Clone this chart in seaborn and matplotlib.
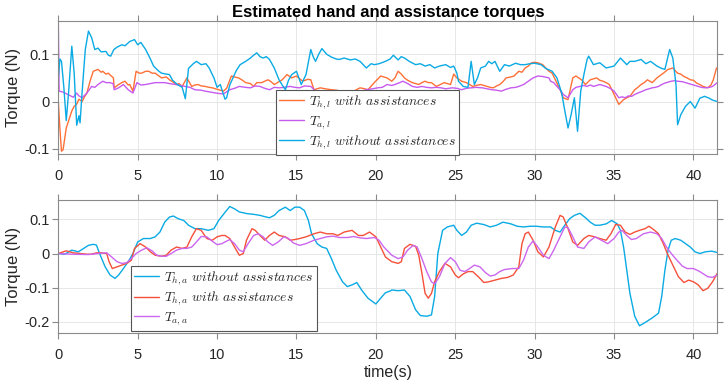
import matplotlib
matplotlib.use("Agg")
import matplotlib.pyplot as plt
import seaborn as sns

# ---------------- data ----------------
# Top panel: T_{h,l} without assistances (blue)
top_blue_t = [0.0, 0.1, 0.2, 0.35, 0.5, 0.65, 0.85, 1.0, 1.16, 1.3, 1.37, 1.5, 1.7, 1.9, 2.1, 2.3, 2.5, 2.7, 3.0, 3.15,
              3.3, 3.5, 3.7, 4.0, 4.2, 4.5, 4.8, 5.0, 5.2, 5.5, 5.8, 6.0, 6.3, 6.5, 6.8, 7.0, 7.2, 7.5, 7.8, 8.0,
              8.2, 8.5, 8.7, 9.0, 9.3, 9.5, 9.8, 10.0, 10.2, 10.5, 10.6, 10.8, 11.0, 11.2, 11.45, 11.8, 12.1, 12.3, 12.5, 12.7,
              12.9, 13.1, 13.3, 13.6, 13.9, 14.1, 14.3, 14.5, 14.7, 15.0, 15.15, 15.3, 15.6, 15.9, 16.05, 16.2, 16.4, 16.6, 16.9, 17.2,
              17.5, 17.7, 18.0, 18.4, 18.7, 19.0, 19.4, 19.7, 19.9, 20.2, 20.6, 20.9, 21.1, 21.4, 21.6, 21.8, 22.1, 22.5, 22.8, 23.1,
              23.4, 23.7, 24.0, 24.4, 24.7, 24.9, 25.1, 25.2, 25.5, 25.8, 26.0, 26.2, 26.4, 26.6, 26.9, 27.1, 27.3, 27.5, 27.8, 28.1,
              28.4, 28.8, 29.1, 29.4, 29.7, 30.0, 30.4, 30.7, 31.1, 31.4, 31.7, 31.9, 32.1, 32.3, 32.5, 32.7, 32.9, 33.1, 33.3, 33.4,
              33.7, 34.1, 34.5, 35.0, 35.4, 35.8, 36.0, 36.3, 36.7, 37.0, 37.3, 37.7, 38.0, 38.2, 38.5, 38.7, 38.9, 39.0, 39.2, 39.5,
              39.8, 40.1, 40.4, 40.7, 41.0, 41.2, 41.5]
top_blue_v = [0.05, 0.09, 0.085, 0.03, -0.04, 0.02, 0.117, 0.06, -0.05, -0.03, -0.045, 0.02, 0.11, 0.149, 0.135, 0.11, 0.113, 0.105, 0.106, 0.098,
              0.096, 0.11, 0.115, 0.12, 0.118, 0.127, 0.131, 0.12, 0.125, 0.11, 0.09, 0.075, 0.065, 0.06, 0.058, 0.057, 0.045, 0.036, 0.03, 0.006,
              0.07, 0.08, 0.085, 0.078, 0.08, 0.071, 0.05, 0.03, 0.036, 0.005, 0.008, 0.035, 0.05, 0.065, 0.078, 0.085, 0.092, 0.098, 0.103, 0.095,
              0.092, 0.095, 0.089, 0.071, 0.046, 0.035, 0.025, 0.045, 0.057, 0.064, 0.05, 0.036, 0.057, 0.11, 0.095, 0.085, 0.1, 0.112, 0.1, 0.094,
              0.09, 0.089, 0.092, 0.088, 0.09, 0.085, 0.071, 0.08, 0.078, 0.08, 0.085, 0.09, 0.098, 0.088, 0.095, 0.092, 0.085, 0.078, 0.08, 0.075,
              0.078, 0.071, 0.075, 0.078, 0.072, 0.075, 0.06, 0.043, 0.032, 0.03, 0.085, 0.036, 0.05, 0.071, 0.075, 0.085, 0.08, 0.085, 0.064, 0.078,
              0.075, 0.081, 0.078, 0.078, 0.08, 0.081, 0.078, 0.07, 0.064, 0.05, 0.018, -0.02, -0.056, -0.027, 0.008, -0.063, 0.022, 0.057, 0.089, 0.096,
              0.078, 0.082, 0.071, 0.075, 0.092, 0.078, 0.085, 0.085, 0.089, 0.08, 0.085, 0.075, 0.07, 0.068, 0.11, 0.092, 0.036, -0.049, -0.028, -0.01,
              0.0, -0.014, 0.007, 0.011, 0.007, 0.003, 0.0]

# Top panel: T_{h,l} with assistances (orange)
top_orange_t = [0.0, 0.1, 0.2, 0.3, 0.5, 0.7, 0.85, 1.0, 1.15, 1.3, 1.5, 1.65, 1.8, 2.0, 2.2, 2.5, 2.7, 2.8, 3.0, 3.15,
                3.3, 3.47, 3.52, 3.8, 4.0, 4.2, 4.4, 4.5, 4.7, 4.9, 5.1, 5.25, 5.5, 5.7, 5.9, 6.1, 6.3, 6.5, 6.8, 7.0,
                7.2, 7.4, 7.6, 7.8, 8.1, 8.4, 8.6, 8.8, 9.0, 9.25, 9.5, 9.7, 10.1, 10.4, 10.6, 10.9, 11.1, 11.35, 11.6, 11.8,
                12.1, 12.3, 12.5, 12.8, 13.0, 13.2, 13.4, 13.6, 13.9, 14.1, 14.4, 14.7, 15.0, 15.2, 15.4, 15.7, 15.9, 16.1, 16.5, 16.8,
                17.2, 17.5, 17.8, 18.0, 18.2, 18.6, 19.0, 19.3, 19.5, 19.9, 20.3, 20.5, 20.7, 21.0, 21.2, 21.4, 21.6, 21.8, 22.0, 22.3,
                22.5, 22.7, 22.9, 23.1, 23.3, 23.5, 23.8, 24.0, 24.3, 24.5, 24.7, 24.9, 25.1, 25.4, 25.7, 25.9, 26.1, 26.3, 26.6, 26.8,
                27.0, 27.2, 27.4, 27.6, 27.8, 28.0, 28.2, 28.5, 28.7, 29.0, 29.2, 29.4, 29.6, 29.8, 30.0, 30.2, 30.5, 30.7, 30.9, 31.1,
                31.3, 31.6, 31.8, 32.1, 32.4, 32.6, 32.95, 33.2, 33.5, 33.9, 34.1, 34.3, 34.5, 34.7, 35.0, 35.3, 35.6, 35.8, 36.0, 36.3,
                36.5, 36.7, 36.9, 37.1, 37.4, 37.7, 37.9, 38.1, 38.4, 38.7, 39.0, 39.2, 39.4, 39.6, 39.8, 40.0, 40.2, 40.4, 40.6, 40.9,
                41.1, 41.25, 41.45]
top_orange_v = [0.0, -0.056, -0.105, -0.102, -0.056, -0.035, -0.02, -0.01, -0.006, 0.005, 0.0, 0.01, 0.018, 0.043, 0.064, 0.068, 0.062, 0.064, 0.058, 0.06,
                0.055, 0.05, 0.029, 0.036, 0.04, 0.043, 0.035, 0.036, 0.022, 0.064, 0.06, 0.06, 0.064, 0.064, 0.06, 0.06, 0.055, 0.05, 0.052, 0.046,
                0.042, 0.036, 0.038, 0.032, 0.05, 0.032, 0.035, 0.036, 0.033, 0.032, 0.03, 0.029, 0.025, 0.022, 0.028, 0.054, 0.052, 0.05, 0.045, 0.04,
                0.038, 0.032, 0.04, 0.04, 0.043, 0.046, 0.042, 0.036, 0.042, 0.046, 0.057, 0.05, 0.054, 0.048, 0.043, 0.047, 0.046, 0.025, 0.029, 0.027,
                0.025, 0.024, 0.022, 0.02, 0.018, 0.022, 0.029, 0.027, 0.025, 0.04, 0.054, 0.052, 0.05, 0.043, 0.05, 0.064, 0.058, 0.05, 0.045, 0.04,
                0.038, 0.036, 0.04, 0.043, 0.04, 0.04, 0.032, 0.035, 0.04, 0.038, 0.036, 0.058, 0.05, 0.043, 0.04, 0.036, 0.032, 0.034, 0.036, 0.034,
                0.032, 0.03, 0.029, 0.033, 0.036, 0.042, 0.05, 0.052, 0.054, 0.064, 0.062, 0.071, 0.075, 0.082, 0.083, 0.082, 0.078, 0.071, 0.064, 0.06,
                0.046, 0.025, 0.008, 0.004, 0.05, 0.054, 0.046, 0.036, 0.046, 0.05, 0.045, 0.043, 0.04, 0.036, 0.015, -0.006, 0.004, 0.008, 0.011, 0.025,
                0.03, 0.036, 0.04, 0.046, 0.04, 0.05, 0.055, 0.06, 0.068, 0.071, 0.06, 0.058, 0.053, 0.05, 0.046, 0.045, 0.039, 0.036, 0.032, 0.029,
                0.035, 0.046, 0.071]

# Top panel: T_{a,l} (magenta)
top_mag_t = [0.0, 0.05, 0.3, 0.6, 0.95, 1.15, 1.3, 1.5, 1.8, 2.1, 2.3, 2.5, 2.8, 3.0, 3.25, 3.45, 3.52, 3.8, 4.1, 4.4,
             4.7, 4.95, 5.2, 5.5, 5.8, 6.1, 6.4, 6.7, 7.0, 7.4, 7.7, 8.0, 8.3, 8.6, 9.0, 9.25, 9.6, 9.9, 10.4, 10.8,
             11.1, 11.4, 11.8, 12.1, 12.4, 12.7, 13.0, 13.3, 13.6, 13.9, 14.2, 14.6, 14.9, 15.2, 15.5, 15.9, 16.2, 16.5, 16.9, 17.2,
             17.5, 17.8, 18.2, 18.5, 18.8, 19.1, 19.4, 19.8, 20.1, 20.4, 20.7, 21.0, 21.2, 21.5, 21.7, 22.0, 22.3, 22.6, 22.9, 23.2,
             23.5, 23.8, 24.1, 24.4, 24.8, 25.1, 25.4, 25.7, 26.0, 26.3, 26.7, 27.0, 27.3, 27.6, 27.9, 28.2, 28.5, 28.8, 29.0, 29.3,
             29.6, 29.9, 30.2, 30.5, 30.9, 31.0, 31.2, 31.4, 31.6, 31.8, 32.1, 32.4, 32.6, 32.85, 33.1, 33.3, 33.5, 33.7, 34.1, 34.3,
             34.5, 34.8, 35.0, 35.3, 35.5, 35.7, 35.9, 36.1, 36.3, 36.5, 36.8, 37.0, 37.2, 37.4, 37.6, 37.8, 38.0, 38.2, 38.4, 38.6,
             38.8, 39.0, 39.3, 39.5, 39.9, 40.3, 40.5, 40.75, 41.0, 41.2, 41.35, 41.5]
top_mag_v = [0.17, 0.022, 0.02, 0.015, 0.009, 0.018, 0.012, 0.008, 0.018, 0.032, 0.03, 0.036, 0.043, 0.04, 0.04, 0.038, 0.025, 0.029, 0.036, 0.025,
             0.018, 0.04, 0.035, 0.036, 0.038, 0.04, 0.04, 0.04, 0.038, 0.036, 0.034, 0.032, 0.03, 0.025, 0.024, 0.022, 0.02, 0.018, 0.016, 0.025,
             0.028, 0.032, 0.03, 0.029, 0.033, 0.032, 0.028, 0.025, 0.03, 0.029, 0.03, 0.032, 0.03, 0.029, 0.033, 0.032, 0.022, 0.023, 0.022, 0.02,
             0.018, 0.02, 0.018, 0.019, 0.02, 0.022, 0.025, 0.027, 0.029, 0.03, 0.036, 0.034, 0.036, 0.04, 0.043, 0.038, 0.032, 0.03, 0.032, 0.03,
             0.029, 0.03, 0.029, 0.027, 0.029, 0.028, 0.025, 0.028, 0.029, 0.03, 0.029, 0.027, 0.025, 0.024, 0.022, 0.026, 0.029, 0.03, 0.032, 0.036,
             0.043, 0.05, 0.054, 0.053, 0.05, 0.043, 0.04, 0.032, 0.025, 0.015, 0.008, 0.025, 0.03, 0.032, 0.034, 0.032, 0.035, 0.032, 0.036, 0.034,
             0.032, 0.027, 0.022, 0.008, 0.01, 0.008, 0.012, 0.011, 0.015, 0.018, 0.022, 0.025, 0.027, 0.029, 0.03, 0.032, 0.036, 0.039, 0.041, 0.043,
             0.044, 0.043, 0.042, 0.04, 0.036, 0.032, 0.03, 0.029, 0.03, 0.032, 0.036, 0.04]

# Bottom panel: T_{h,a} without assistances (blue)
bot_blue_t = [0.0, 0.4, 0.85, 1.26, 1.6, 1.9, 2.2, 2.4, 2.6, 2.95, 3.26, 3.57, 3.8, 4.1, 4.4, 4.7, 5.0, 5.36, 5.8, 6.1,
              6.4, 6.7, 7.0, 7.25, 7.56, 7.9, 8.2, 8.6, 9.0, 9.45, 9.8, 10.1, 10.5, 10.8, 11.1, 11.4, 11.9, 12.3, 12.7, 13.1,
              13.3, 13.6, 13.9, 14.3, 14.6, 14.9, 15.2, 15.5, 15.75, 15.95, 16.3, 16.6, 16.9, 17.2, 17.5, 17.9, 18.2, 18.5, 18.8, 19.1,
              19.5, 20.0, 20.3, 20.6, 20.9, 21.0, 21.4, 21.8, 22.15, 22.5, 22.8, 23.2, 23.5, 23.7, 23.9, 24.2, 24.5, 24.9, 25.1, 25.4,
              25.7, 26.0, 26.35, 26.8, 27.2, 27.6, 28.0, 28.5, 28.9, 29.3, 29.7, 30.1, 30.55, 31.0, 31.3, 31.6, 31.9, 32.2, 32.5, 32.85,
              33.2, 33.5, 33.8, 34.1, 34.5, 34.85, 35.2, 35.4, 35.6, 35.8, 36.0, 36.3, 36.6, 36.9, 37.4, 37.8, 38.0, 38.2, 38.4, 38.6,
              38.85, 39.2, 39.5, 39.8, 40.1, 40.4, 40.75, 41.15, 41.5]
bot_blue_v = [0.0, -0.002, 0.01, 0.005, 0.015, 0.024, 0.027, 0.025, 0.0, -0.039, -0.063, -0.073, -0.063, -0.044, -0.024, 0.0, 0.034, 0.044, 0.044, 0.049,
              0.063, 0.092, 0.107, 0.11, 0.102, 0.097, 0.083, 0.073, 0.073, 0.068, 0.073, 0.097, 0.121, 0.138, 0.131, 0.122, 0.117, 0.115, 0.112, 0.107,
              0.105, 0.112, 0.126, 0.136, 0.126, 0.136, 0.136, 0.126, 0.097, 0.058, 0.029, 0.019, 0.015, -0.015, -0.049, -0.083, -0.097, -0.092, -0.085, -0.107,
              -0.131, -0.148, -0.131, -0.115, -0.11, -0.107, -0.109, -0.107, -0.126, -0.165, -0.182, -0.184, -0.18, -0.126, 0.0, 0.068, 0.078, 0.083, 0.068, 0.053,
              0.063, 0.083, 0.089, 0.085, 0.078, 0.083, 0.092, 0.087, 0.08, 0.078, 0.08, 0.08, 0.078, 0.078, 0.068, 0.063, 0.083, 0.102, 0.112, 0.118,
              0.105, 0.092, 0.083, 0.083, 0.087, 0.097, 0.087, 0.068, 0.019, -0.049, -0.117, -0.184, -0.212, -0.204, -0.189, -0.175, -0.126, -0.049, 0.01, 0.039,
              0.044, 0.039, 0.029, 0.019, 0.005, 0.0, 0.005, 0.007, 0.003]

# Bottom panel: T_{h,a} with assistances (red)
bot_red_t = [0.0, 0.5, 0.95, 1.37, 1.8, 2.1, 2.4, 2.7, 3.05, 3.2, 3.4, 3.7, 4.0, 4.3, 4.6, 4.8, 5.15, 5.5, 5.8, 6.1,
             6.5, 6.8, 7.1, 7.45, 7.8, 8.1, 8.4, 8.7, 9.0, 9.35, 9.7, 10.0, 10.3, 10.5, 10.8, 11.1, 11.4, 11.65, 11.85, 12.2,
             12.4, 12.7, 13.0, 13.3, 13.6, 13.9, 14.3, 14.6, 14.9, 15.2, 15.6, 16.1, 16.5, 16.9, 17.3, 17.6, 18.0, 18.5, 18.9, 19.2,
             19.6, 20.0, 20.4, 20.6, 21.0, 21.4, 21.6, 21.8, 22.15, 22.5, 22.7, 22.9, 23.1, 23.3, 23.5, 23.7, 24.0, 24.35, 24.7, 25.0,
             25.2, 25.5, 25.8, 26.1, 26.45, 26.8, 27.1, 27.5, 27.9, 28.3, 28.65, 29.0, 29.2, 29.4, 29.6, 29.9, 30.2, 30.55, 30.9, 31.3,
             31.6, 31.8, 32.1, 32.4, 32.7, 33.1, 33.4, 33.7, 34.1, 34.5, 34.8, 35.1, 35.4, 35.7, 36.0, 36.3, 36.6, 36.95, 37.2, 37.5,
             37.8, 38.1, 38.4, 38.7, 39.05, 39.4, 39.7, 40.0, 40.3, 40.6, 40.9, 41.2, 41.5]
bot_red_v = [0.0, 0.008, 0.002, 0.0, -0.002, -0.002, 0.002, 0.002, 0.0, -0.024, -0.044, -0.039, -0.034, -0.029, -0.02, 0.015, 0.029, 0.019, 0.005, -0.005,
             -0.008, -0.005, 0.01, 0.019, 0.015, 0.019, 0.049, 0.073, 0.068, 0.044, 0.039, 0.049, 0.053, 0.053, 0.044, 0.019, -0.005, 0.0, 0.039, 0.073,
             0.068, 0.053, 0.039, 0.053, 0.063, 0.053, 0.049, 0.039, 0.041, 0.044, 0.049, 0.058, 0.063, 0.058, 0.058, 0.053, 0.063, 0.068, 0.053, 0.053,
             0.063, 0.049, 0.01, -0.01, -0.024, -0.029, -0.024, 0.015, 0.027, 0.021, -0.005, -0.058, -0.117, -0.131, -0.117, -0.083, -0.053, -0.029, -0.039, -0.063,
             -0.071, -0.06, -0.053, -0.053, -0.068, -0.085, -0.083, -0.078, -0.073, -0.07, -0.063, -0.039, 0.029, 0.058, 0.063, 0.039, 0.005, -0.01, 0.019, 0.078,
             0.112, 0.107, 0.073, 0.034, 0.024, 0.044, 0.053, 0.05, 0.044, 0.039, 0.058, 0.085, 0.083, 0.063, 0.056, 0.063, 0.068, 0.073, 0.08, 0.07,
             0.058, 0.029, -0.005, -0.034, -0.068, -0.085, -0.078, -0.083, -0.092, -0.109, -0.102, -0.083, -0.058]

# Bottom panel: T_{a,a} (magenta)
bot_mag_t = [0.0, 0.85, 1.9, 2.5, 3.05, 3.36, 3.7, 4.0, 4.3, 4.6, 4.9, 5.25, 5.57, 5.9, 6.2, 6.5, 6.8, 7.1, 7.45, 7.8,
             8.1, 8.4, 8.7, 9.0, 9.35, 9.7, 10.0, 10.3, 10.5, 10.8, 11.1, 11.4, 11.65, 11.95, 12.3, 12.6, 12.9, 13.2, 13.5, 13.85,
             14.2, 14.5, 14.8, 15.2, 15.6, 16.1, 16.5, 16.9, 17.3, 17.7, 18.2, 18.6, 19.0, 19.4, 19.9, 20.2, 20.5, 20.8, 21.0, 21.4,
             21.7, 22.0, 22.35, 22.6, 22.9, 23.2, 23.5, 23.7, 24.0, 24.35, 24.7, 25.0, 25.3, 25.6, 25.9, 26.2, 26.55, 26.9, 27.2, 27.5,
             27.8, 28.1, 28.6, 29.0, 29.3, 29.6, 29.9, 30.2, 30.55, 30.9, 31.2, 31.6, 31.9, 32.1, 32.4, 32.7, 33.1, 33.4, 33.8, 34.2,
             34.6, 35.0, 35.3, 35.5, 35.8, 36.1, 36.4, 36.85, 37.3, 37.7, 38.0, 38.3, 38.6, 38.95, 39.3, 39.6, 40.0, 40.4, 40.9, 41.2,
             41.5]
bot_mag_v = [0.0, -0.002, -0.003, 0.0, 0.002, -0.01, -0.024, -0.029, -0.027, -0.015, 0.0, 0.01, 0.017, 0.008, -0.005, -0.008, -0.008, 0.0, 0.01, 0.015,
             0.015, 0.019, 0.034, 0.05, 0.049, 0.036, 0.026, 0.029, 0.034, 0.041, 0.029, 0.01, 0.005, 0.029, 0.053, 0.058, 0.049, 0.034, 0.024, 0.034,
             0.049, 0.044, 0.031, 0.024, 0.029, 0.039, 0.044, 0.049, 0.051, 0.047, 0.047, 0.05, 0.046, 0.044, 0.047, 0.039, 0.019, 0.005, -0.005, -0.015,
             -0.01, 0.01, 0.024, 0.019, -0.015, -0.053, -0.083, -0.089, -0.068, -0.029, -0.012, -0.024, -0.049, -0.053, -0.044, -0.034, -0.039, -0.056, -0.066, -0.063,
             -0.053, -0.047, -0.044, -0.044, -0.019, 0.019, 0.037, 0.019, -0.005, -0.015, 0.01, 0.049, 0.078, 0.076, 0.049, 0.019, 0.015, 0.034, 0.049, 0.039,
             0.029, 0.044, 0.063, 0.068, 0.053, 0.041, 0.044, 0.058, 0.063, 0.058, 0.044, 0.019, 0.0, -0.019, -0.037, -0.044, -0.044, -0.053, -0.068, -0.07,
             -0.063]

x_ticks = [0, 5, 10, 15, 20, 25, 30, 35, 40]
top_yticks = [-0.1, 0.0, 0.1]
top_yticklabels = ["-0.1", "0", "0.1"]
bot_yticks = [-0.2, -0.1, 0.0, 0.1]
bot_yticklabels = ["-0.2", "-0.1", "0", "0.1"]

top_labels = [r"$T_{h,l}\ with\ assistances$", r"$T_{a,l}$", r"$T_{h,l}\ without\ assistances$"]
bot_labels = [r"$T_{h,a}\ without\ assistances$", r"$T_{h,a}\ with\ assistances$", r"$T_{a,a}$"]

title = "Estimated hand and assistance torques"

# ---------------- style ----------------
sns.set_theme(style="white")
plt.rcParams["font.family"] = ["Liberation Sans", "DejaVu Sans"]
plt.rcParams["mathtext.fontset"] = "cm"

C_BLUE = "#0AAAE4"
C_ORANGE = "#FF7037"
C_MAG = "#C65BF0"
C_RED = "#F5503A"
C_MAG2 = "#CC66EE"

fig = plt.figure(figsize=(7.26, 3.88), dpi=100)
ax1 = fig.add_axes([0.0803, 0.603, 0.9077, 0.3437])
ax2 = fig.add_axes([0.0803, 0.141, 0.9077, 0.3435])

lw = 1.0
sns.lineplot(x=top_orange_t, y=top_orange_v, ax=ax1, color=C_ORANGE, lw=lw, label=top_labels[0])
sns.lineplot(x=top_mag_t, y=top_mag_v, ax=ax1, color=C_MAG, lw=lw, label=top_labels[1])
sns.lineplot(x=top_blue_t, y=top_blue_v, ax=ax1, color=C_BLUE, lw=lw, label=top_labels[2])

sns.lineplot(x=bot_blue_t, y=bot_blue_v, ax=ax2, color=C_BLUE, lw=lw, label=bot_labels[0])
sns.lineplot(x=bot_red_t, y=bot_red_v, ax=ax2, color=C_RED, lw=lw, label=bot_labels[1])
sns.lineplot(x=bot_mag_t, y=bot_mag_v, ax=ax2, color=C_MAG2, lw=lw, label=bot_labels[2])

ax1.set_xlim(0, 41.5)
ax1.set_ylim(-0.111, 0.171)
ax2.set_xlim(0, 41.5)
ax2.set_ylim(-0.234, 0.157)

for ax, yt, ytl in [(ax1, top_yticks, top_yticklabels), (ax2, bot_yticks, bot_yticklabels)]:
    ax.set_xticks(x_ticks)
    ax.set_xticklabels([str(v) for v in x_ticks])
    ax.set_yticks(yt)
    ax.set_yticklabels(ytl)
    ax.grid(True, color="#e3e3e3", lw=0.6)
    ax.set_axisbelow(True)
    for s in ax.spines.values():
        s.set_color("#8a8a8a")
        s.set_linewidth(0.8)
    ax.tick_params(axis="both", which="both", direction="out", length=4.5, width=0.8,
                   color="#8a8a8a", top=True, right=True, left=True, bottom=True,
                   labelsize=10.5, labelcolor="#262626")
    ax.tick_params(axis="x", pad=6)
    ax.tick_params(axis="y", pad=2)
    ax.set_ylabel("Torque (N)", fontsize=12, color="#262626", labelpad=2)
    ax.set_xlabel("")

ax2.set_xlabel("time(s)", fontsize=11.5, color="#262626", labelpad=2)
ax1.set_title(title, fontsize=12, fontweight="bold", color="black", pad=3)

leg_kw = dict(fontsize=9.8, frameon=True, fancybox=False, framealpha=1, edgecolor="#555555",
              handlelength=1.8, handletextpad=0.4, labelspacing=0.2, borderpad=0.25,
              borderaxespad=0.0, loc="lower left")
h1, l1 = ax1.get_legend_handles_labels()
lg1 = ax1.legend(h1, l1, bbox_to_anchor=(0.33, -0.005), **leg_kw)
h2, l2 = ax2.get_legend_handles_labels()
lg2 = ax2.legend(h2, l2, bbox_to_anchor=(0.11, 0.02), **leg_kw)
for lg in (lg1, lg2):
    lg.get_frame().set_linewidth(0.8)

fig.savefig("out.png", dpi=100)
